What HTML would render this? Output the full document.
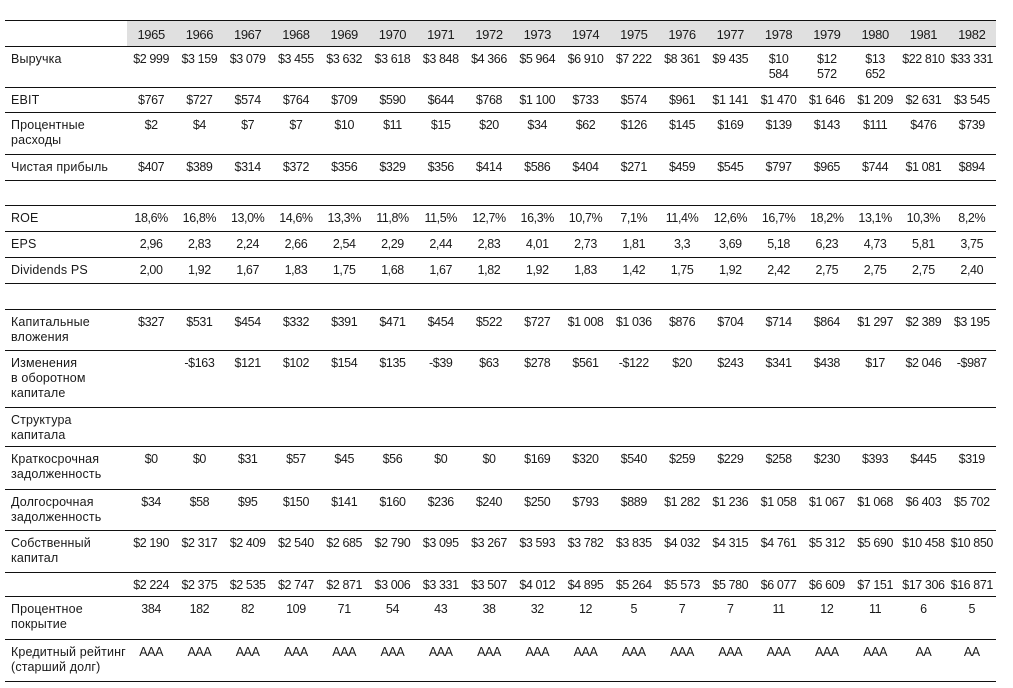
<!DOCTYPE html>
<html><head><meta charset="utf-8">
<style>
html,body{margin:0;padding:0;background:#fff;width:1013px;height:688px;overflow:hidden}
table{position:absolute;left:5px;top:20px;width:991px;border-collapse:collapse;table-layout:fixed;font-family:"Liberation Sans","DejaVu Sans",sans-serif;font-size:12.5px;color:#1a1a1a}
td{border-bottom:1px solid #111;padding:5px 0 0 0;vertical-align:top;line-height:15px;text-align:center;white-space:nowrap;overflow:visible;letter-spacing:-0.4px}
td:first-child{text-align:left;padding-left:6px;letter-spacing:0.15px;white-space:nowrap}
tr.h td{border-top:1px solid #111;background:#e0e0e0;padding-top:6px;font-size:13px}
tr.h td:first-child{background:#fff}
</style></head><body>
<table>
<colgroup><col style="width:122px"><col span="18"></colgroup>
<tr class="h" style="height:26px"><td></td><td>1965</td><td>1966</td><td>1967</td><td>1968</td><td>1969</td><td>1970</td><td>1971</td><td>1972</td><td>1973</td><td>1974</td><td>1975</td><td>1976</td><td>1977</td><td>1978</td><td>1979</td><td>1980</td><td>1981</td><td>1982</td></tr>
<tr style="height:41px"><td>Выручка</td><td>$2 999</td><td>$3 159</td><td>$3 079</td><td>$3 455</td><td>$3 632</td><td>$3 618</td><td>$3 848</td><td>$4 366</td><td>$5 964</td><td>$6 910</td><td>$7 222</td><td>$8 361</td><td>$9 435</td><td>$10<br>584</td><td>$12<br>572</td><td>$13<br>652</td><td>$22 810</td><td>$33 331</td></tr>
<tr style="height:25px"><td>EBIT</td><td>$767</td><td>$727</td><td>$574</td><td>$764</td><td>$709</td><td>$590</td><td>$644</td><td>$768</td><td>$1 100</td><td>$733</td><td>$574</td><td>$961</td><td>$1 141</td><td>$1 470</td><td>$1 646</td><td>$1 209</td><td>$2 631</td><td>$3 545</td></tr>
<tr style="height:42px"><td>Процентные<br>расходы</td><td>$2</td><td>$4</td><td>$7</td><td>$7</td><td>$10</td><td>$11</td><td>$15</td><td>$20</td><td>$34</td><td>$62</td><td>$126</td><td>$145</td><td>$169</td><td>$139</td><td>$143</td><td>$111</td><td>$476</td><td>$739</td></tr>
<tr style="height:26px"><td>Чистая прибыль</td><td>$407</td><td>$389</td><td>$314</td><td>$372</td><td>$356</td><td>$329</td><td>$356</td><td>$414</td><td>$586</td><td>$404</td><td>$271</td><td>$459</td><td>$545</td><td>$797</td><td>$965</td><td>$744</td><td>$1 081</td><td>$894</td></tr>
<tr style="height:25px"><td></td><td></td><td></td><td></td><td></td><td></td><td></td><td></td><td></td><td></td><td></td><td></td><td></td><td></td><td></td><td></td><td></td><td></td><td></td></tr>
<tr style="height:26px"><td>ROE</td><td>18,6%</td><td>16,8%</td><td>13,0%</td><td>14,6%</td><td>13,3%</td><td>11,8%</td><td>11,5%</td><td>12,7%</td><td>16,3%</td><td>10,7%</td><td>7,1%</td><td>11,4%</td><td>12,6%</td><td>16,7%</td><td>18,2%</td><td>13,1%</td><td>10,3%</td><td>8,2%</td></tr>
<tr style="height:26px"><td>EPS</td><td>2,96</td><td>2,83</td><td>2,24</td><td>2,66</td><td>2,54</td><td>2,29</td><td>2,44</td><td>2,83</td><td>4,01</td><td>2,73</td><td>1,81</td><td>3,3</td><td>3,69</td><td>5,18</td><td>6,23</td><td>4,73</td><td>5,81</td><td>3,75</td></tr>
<tr style="height:26px"><td>Dividends PS</td><td>2,00</td><td>1,92</td><td>1,67</td><td>1,83</td><td>1,75</td><td>1,68</td><td>1,67</td><td>1,82</td><td>1,92</td><td>1,83</td><td>1,42</td><td>1,75</td><td>1,92</td><td>2,42</td><td>2,75</td><td>2,75</td><td>2,75</td><td>2,40</td></tr>
<tr style="height:26px"><td></td><td></td><td></td><td></td><td></td><td></td><td></td><td></td><td></td><td></td><td></td><td></td><td></td><td></td><td></td><td></td><td></td><td></td><td></td></tr>
<tr style="height:41px"><td>Капитальные<br>вложения</td><td>$327</td><td>$531</td><td>$454</td><td>$332</td><td>$391</td><td>$471</td><td>$454</td><td>$522</td><td>$727</td><td>$1 008</td><td>$1 036</td><td>$876</td><td>$704</td><td>$714</td><td>$864</td><td>$1 297</td><td>$2 389</td><td>$3 195</td></tr>
<tr style="height:57px"><td>Изменения<br>в оборотном<br>капитале</td><td></td><td>-$163</td><td>$121</td><td>$102</td><td>$154</td><td>$135</td><td>-$39</td><td>$63</td><td>$278</td><td>$561</td><td>-$122</td><td>$20</td><td>$243</td><td>$341</td><td>$438</td><td>$17</td><td>$2 046</td><td>-$987</td></tr>
<tr style="height:39px"><td>Структура<br>капитала</td><td></td><td></td><td></td><td></td><td></td><td></td><td></td><td></td><td></td><td></td><td></td><td></td><td></td><td></td><td></td><td></td><td></td><td></td></tr>
<tr style="height:43px"><td>Краткосрочная<br>задолженность</td><td>$0</td><td>$0</td><td>$31</td><td>$57</td><td>$45</td><td>$56</td><td>$0</td><td>$0</td><td>$169</td><td>$320</td><td>$540</td><td>$259</td><td>$229</td><td>$258</td><td>$230</td><td>$393</td><td>$445</td><td>$319</td></tr>
<tr style="height:41px"><td>Долгосрочная<br>задолженность</td><td>$34</td><td>$58</td><td>$95</td><td>$150</td><td>$141</td><td>$160</td><td>$236</td><td>$240</td><td>$250</td><td>$793</td><td>$889</td><td>$1 282</td><td>$1 236</td><td>$1 058</td><td>$1 067</td><td>$1 068</td><td>$6 403</td><td>$5 702</td></tr>
<tr style="height:42px"><td>Собственный<br>капитал</td><td>$2 190</td><td>$2 317</td><td>$2 409</td><td>$2 540</td><td>$2 685</td><td>$2 790</td><td>$3 095</td><td>$3 267</td><td>$3 593</td><td>$3 782</td><td>$3 835</td><td>$4 032</td><td>$4 315</td><td>$4 761</td><td>$5 312</td><td>$5 690</td><td>$10 458</td><td>$10 850</td></tr>
<tr style="height:24px"><td></td><td>$2 224</td><td>$2 375</td><td>$2 535</td><td>$2 747</td><td>$2 871</td><td>$3 006</td><td>$3 331</td><td>$3 507</td><td>$4 012</td><td>$4 895</td><td>$5 264</td><td>$5 573</td><td>$5 780</td><td>$6 077</td><td>$6 609</td><td>$7 151</td><td>$17 306</td><td>$16 871</td></tr>
<tr style="height:43px"><td>Процентное<br>покрытие</td><td>384</td><td>182</td><td>82</td><td>109</td><td>71</td><td>54</td><td>43</td><td>38</td><td>32</td><td>12</td><td>5</td><td>7</td><td>7</td><td>11</td><td>12</td><td>11</td><td>6</td><td>5</td></tr>
<tr style="height:42px"><td>Кредитный рейтинг<br>(старший долг)</td><td>AAA</td><td>AAA</td><td>AAA</td><td>AAA</td><td>AAA</td><td>AAA</td><td>AAA</td><td>AAA</td><td>AAA</td><td>AAA</td><td>AAA</td><td>AAA</td><td>AAA</td><td>AAA</td><td>AAA</td><td>AAA</td><td>AA</td><td>AA</td></tr>
</table>
</body></html>
